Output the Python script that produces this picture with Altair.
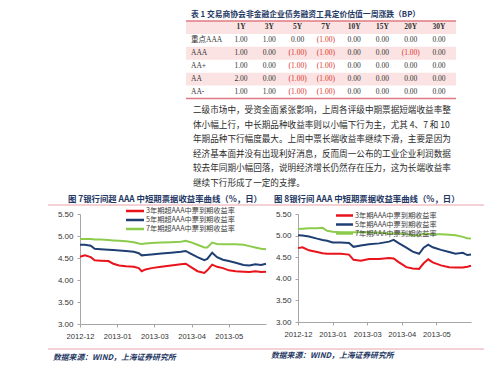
import altair as alt
import pandas as pd

CJK = "Noto Sans CJK SC"
SERIF = "Liberation Serif, Noto Sans CJK SC"
NAVY = "#1F3864"
PINK_LINE = "#E8A3A9"
TABLE_RULE = "#E07A82"
ROW_FILL = "#FBE3E3"
NEG_RED = "#E0312B"
LINE_COLORS = ["#E8131B", "#1F3F73", "#8CCB4C"]

# ---------------- Table 1 ----------------
table_title = "表 1 交易商协会非金融企业债务融资工具定价估值一周涨跌（BP）"
tenors = ["1Y", "3Y", "5Y", "7Y", "10Y", "15Y", "20Y", "30Y"]
ratings = ["重点AAA", "AAA", "AA+", "AA", "AA-"]
chg_key_aaa = [1.00, 1.00, 0.00, -1.00, 0.00, 0.00, 0.00, 0.00]
chg_aaa = [1.00, 0.00, -1.00, -1.00, 0.00, 0.00, -1.00, 0.00]
chg_aa_plus = [1.00, 0.00, -1.00, -1.00, 0.00, 0.00, 0.00, 0.00]
chg_aa = [2.00, 0.00, -1.00, -1.00, 0.00, 0.00, 0.00, 0.00]
chg_aa_minus = [1.00, 1.00, -1.00, -1.00, 0.00, 0.00, 0.00, 0.00]
header_key = "表头"
shaded_rows = [header_key, "AAA", "AA"]

paragraph = [
    "二级市场中，受资金面紧张影响，上周各评级中期票据短端收益率整",
    "体小幅上行，中长期品种收益率则以小幅下行为主，尤其 4、7 和 10",
    "年期品种下行幅度最大。上周中票长端收益率继续下滑，主要是因为",
    "经济基本面并没有出现利好消息，反而周一公布的工业企业利润数据",
    "较去年同期小幅回落，说明经济增长仍然存在压力，这为长端收益率",
    "继续下行形成了一定的支撑。",
]

# ---------------- Figure 7 ----------------
fig7_title = "图 7银行间超 AAA 中短期票据收益率曲线（%，日）"
fig7_series = ["3年期超AAA中票到期收益率", "5年期超AAA中票到期收益率", "7年期超AAA中票到期收益率"]
fig7_dates = ["2012-12-20", "2012-12-25", "2012-12-31", "2013-01-04", "2013-01-10", "2013-01-18",
              "2013-01-23", "2013-01-29", "2013-02-05", "2013-02-13", "2013-02-18", "2013-02-21",
              "2013-02-25", "2013-03-03", "2013-03-13", "2013-03-23", "2013-04-02", "2013-04-07",
              "2013-04-12", "2013-04-19", "2013-04-26", "2013-04-29", "2013-05-04", "2013-05-09",
              "2013-05-15", "2013-05-21", "2013-05-28", "2013-06-05", "2013-06-11", "2013-06-17",
              "2013-06-23", "2013-06-28"]
fig7_3y = [4.53, 4.56, 4.52, 4.45, 4.44, 4.43, 4.37, 4.33, 4.31, 4.30, 4.27, 4.20, 4.24, 4.27, 4.30, 4.33,
           4.36, 4.37, 4.30, 4.20, 4.16, 4.22, 4.35, 4.30, 4.27, 4.22, 4.20, 4.19, 4.18, 4.20, 4.18, 4.19]
fig7_5y = [4.80, 4.80, 4.78, 4.71, 4.70, 4.69, 4.68, 4.67, 4.66, 4.64, 4.61, 4.56, 4.57, 4.58, 4.60, 4.62,
           4.64, 4.66, 4.60, 4.52, 4.45, 4.48, 4.62, 4.52, 4.46, 4.43, 4.39, 4.34, 4.33, 4.36, 4.34, 4.37]
fig7_7y = [4.93, 4.93, 4.93, 4.92, 4.92, 4.91, 4.90, 4.89, 4.88, 4.86, 4.83, 4.82, 4.83, 4.84, 4.85, 4.86,
           4.87, 4.89, 4.86, 4.80, 4.74, 4.74, 4.85, 4.82, 4.81, 4.81, 4.81, 4.80, 4.77, 4.74, 4.71, 4.70]

# ---------------- Figure 8 ----------------
fig8_title = "图 8银行间 AAA 中短期票据收益率曲线（%，日）"
fig8_series = ["3年期AAA中票到期收益率", "5年期AAA中票到期收益率", "7年期AAA中票到期收益率"]
fig8_dates = ["2012-12-20", "2012-12-25", "2013-01-01", "2013-01-10", "2013-01-16", "2013-01-21",
              "2013-01-27", "2013-02-05", "2013-02-14", "2013-02-19", "2013-02-27", "2013-03-08",
              "2013-03-19", "2013-03-30", "2013-04-04", "2013-04-10", "2013-04-18", "2013-04-25",
              "2013-05-02", "2013-05-07", "2013-05-12", "2013-05-17", "2013-05-26", "2013-06-04",
              "2013-06-11", "2013-06-19", "2013-06-24", "2013-06-28"]
fig8_3y = [4.71, 4.73, 4.66, 4.62, 4.59, 4.58, 4.58, 4.58, 4.56, 4.44, 4.42, 4.46, 4.46, 4.48,
           4.47, 4.38, 4.27, 4.24, 4.23, 4.36, 4.45, 4.38, 4.31, 4.27, 4.26, 4.26, 4.28, 4.30]
fig8_5y = [5.01, 5.00, 4.98, 4.93, 4.90, 4.88, 4.84, 4.84, 4.83, 4.74, 4.77, 4.80, 4.82, 4.86,
           4.90, 4.82, 4.72, 4.63, 4.58, 4.72, 4.79, 4.73, 4.67, 4.62, 4.58, 4.60, 4.55, 4.56]
fig8_7y = [5.15, 5.16, 5.17, 5.17, 5.18, 5.11, 5.09, 5.08, 5.08, 5.08, 5.08, 5.07, 5.07, 5.05,
           5.05, 5.05, 5.04, 5.00, 5.00, 5.05, 5.04, 5.03, 5.03, 5.02, 5.01, 4.97, 4.94, 4.93]

source_text = "数据来源：WIND，上海证券研究所"
x_domain = ["2012-12-20", "2013-06-28"]
x_tick_dates = ["2012-12-20", "2013-01-27", "2013-03-06", "2013-04-13", "2013-05-21"]
y_ticks = [3.0, 3.5, 4.0, 4.5, 5.0, 5.5]


def dt(s):
    y, m, d = (int(p) for p in s.split("-"))
    return alt.DateTime(year=y, month=m, date=d)


def one(**kw):
    return alt.Chart(pd.DataFrame({k: [v] for k, v in kw.items()}))


# ---------------- top panel: table + paragraph ----------------
rows_all = [header_key] + ratings
cells = []
for r, vals in zip(ratings, [chg_key_aaa, chg_aaa, chg_aa_plus, chg_aa, chg_aa_minus]):
    for t, v in zip(tenors, vals):
        cells.append({"row": r, "tenor": t,
                      "label": f"({abs(v):.2f})" if v < 0 else f"{v:.2f}",
                      "neg": "neg" if v < 0 else "pos"})
cells_df = pd.DataFrame(cells)
header_df = pd.DataFrame({"row": [header_key] * len(tenors), "tenor": tenors})
rating_df = pd.DataFrame({"row": ratings})
shade_df = pd.DataFrame({"row": shaded_rows})
para_df = pd.DataFrame({"line": list(range(len(paragraph))), "text": paragraph})

row_y = alt.Y("row:N", scale=alt.Scale(type="band", domain=rows_all, range=[13, 90.5],
                                       paddingInner=0, paddingOuter=0), axis=None)
tenor_x = alt.X("tenor:N", scale=alt.Scale(type="point", domain=tenors, range=[161, 359], padding=0),
                axis=None)

shade = alt.Chart(shade_df).mark_rect(color=ROW_FILL).encode(
    y=row_y, x=alt.value(106), x2=alt.value(376))
rule_top = one(a=0).mark_rule(color=TABLE_RULE, strokeWidth=1.6).encode(
    x=alt.value(106), x2=alt.value(376), y=alt.value(13))
rule_bot = one(a=0).mark_rule(color=TABLE_RULE, strokeWidth=1.6).encode(
    x=alt.value(106), x2=alt.value(376), y=alt.value(90.5))
t_title = one(t=table_title).mark_text(align="left", baseline="middle", font=CJK, fontSize=7.8,
                                         fontWeight="bold", color=NAVY).encode(
    text="t:N", x=alt.value(111), y=alt.value(7))
hdr = alt.Chart(header_df).mark_text(baseline="middle", font=SERIF, fontSize=7.5, fontWeight="bold",
                                     color="#333333").encode(x=tenor_x, y=row_y, text="tenor:N")
rat = alt.Chart(rating_df).mark_text(align="left", baseline="middle", font=SERIF, fontSize=7.5,
                                     color="#333333").encode(x=alt.value(111), y=row_y, text="row:N")
vals = alt.Chart(cells_df).mark_text(baseline="middle", font=SERIF, fontSize=7.5).encode(
    x=tenor_x, y=row_y, text="label:N",
    color=alt.Color("neg:N", scale=alt.Scale(domain=["pos", "neg"], range=["#333333", NEG_RED]),
                    legend=None))
para = alt.Chart(para_df).mark_text(align="left", baseline="middle", font=CJK, fontSize=8.6,
                                    color="#2A2A2A").encode(
    y=alt.Y("line:O", scale=alt.Scale(type="point", domain=list(range(len(paragraph))),
                                      range=[102, 175], padding=0), axis=None),
    x=alt.value(113), text="text:N")

top_panel = alt.layer(shade, rule_top, rule_bot, t_title, hdr, rat, vals, para).resolve_scale(
    y="independent", x="independent", color="independent").properties(width=391, height=196)


# ---------------- chart panels ----------------
def make_panel(title, series, dates, s3, s5, s7, width, height, title_x, line_x, leg_x, leg_y,
               src_x, src_y):
    n = len(dates)
    df = pd.DataFrame({"date": dates * 3, "value": s3 + s5 + s7,
                       "series": [series[0]] * n + [series[1]] * n + [series[2]] * n})
    cscale = alt.Scale(domain=series, range=LINE_COLORS)
    lines = alt.Chart(df).mark_line(strokeWidth=2).encode(
        x=alt.X("date:T", scale=alt.Scale(domain=[dt(d) for d in x_domain]),
                axis=alt.Axis(values=[dt(d) for d in x_tick_dates], format="%Y-%m", title=None,
                              grid=False, labelPadding=5, tickSize=3, labelOverlap=False,
                              labelFlush=False, labelFontSize=7.6)),
        y=alt.Y("value:Q", scale=alt.Scale(domain=[3, 5.5], nice=False, zero=False),
                axis=alt.Axis(values=y_ticks, format=".2f", title=None, grid=False,
                              labelPadding=4, tickSize=3, labelFlush=False)),
        color=alt.Color("series:N", scale=cscale, legend=None),
    )
    leg_df = pd.DataFrame({"series": series})
    ly = alt.Y("series:N", scale=alt.Scale(type="point", domain=series, range=leg_y, padding=0),
               axis=None)
    leg_rule = alt.Chart(leg_df).mark_rule(strokeWidth=2.5).encode(
        x=alt.value(leg_x[0]), x2=alt.value(leg_x[1]), y=ly,
        color=alt.Color("series:N", scale=cscale, legend=None))
    leg_text = alt.Chart(leg_df).mark_text(align="left", baseline="middle", font=CJK, fontSize=7.2,
                                           color="#404040").encode(
        x=alt.value(leg_x[1] + 2), y=ly, text="series:N")
    ttl = one(t=title).mark_text(align="left", baseline="middle", font=CJK, fontSize=8.4,
                                 fontWeight="bold", color=NAVY).encode(
        text="t:N", x=alt.value(title_x), y=alt.value(-15))
    underline = one(a=0).mark_rule(color=PINK_LINE, strokeWidth=1.2).encode(
        x=alt.value(line_x[0]), x2=alt.value(line_x[1]), y=alt.value(-9))
    sep = one(a=0).mark_rule(color=PINK_LINE, strokeWidth=1.2).encode(
        x=alt.value(line_x[0]), x2=alt.value(line_x[1]), y=alt.value(135))
    src = one(t=source_text).mark_text(align="left", baseline="middle", font=CJK, fontSize=7.8,
                                       fontStyle="italic", fontWeight="bold", color=NAVY).encode(
        text="t:N", x=alt.value(src_x), y=alt.value(src_y))
    return alt.layer(lines, leg_rule, leg_text, ttl, underline, sep, src).resolve_scale(
        y="independent").properties(width=width, height=height)


fig7 = make_panel(fig7_title, fig7_series, fig7_dates, fig7_3y, fig7_5y, fig7_7y,
                  width=186, height=110, title_x=-12, line_x=(-32, 201), leg_x=(46, 64),
                  leg_y=[-3, 15], src_x=-27, src_y=144)
fig8 = make_panel(fig8_title, fig8_series, fig8_dates, fig8_3y, fig8_5y, fig8_7y,
                  width=173, height=108, title_x=-24, line_x=(-17, 186), leg_x=(38, 55),
                  leg_y=[1.5, 19.5], src_x=-27, src_y=142)

bottom = alt.hconcat(fig7, fig8, spacing=32, bounds="flush")

chart = alt.vconcat(top_panel, bottom, spacing=10, bounds="flush").properties(
    padding={"left": 39, "top": 0, "right": 0, "bottom": 0}
).configure_view(stroke=None).configure_axis(
    domainColor="#A6A6A6", tickColor="#A6A6A6", labelColor="#333333",
    labelFont="Liberation Sans", labelFontSize=8, domainWidth=1
)

chart.save("out.html", embed_options={"renderer": "svg", "actions": False})
